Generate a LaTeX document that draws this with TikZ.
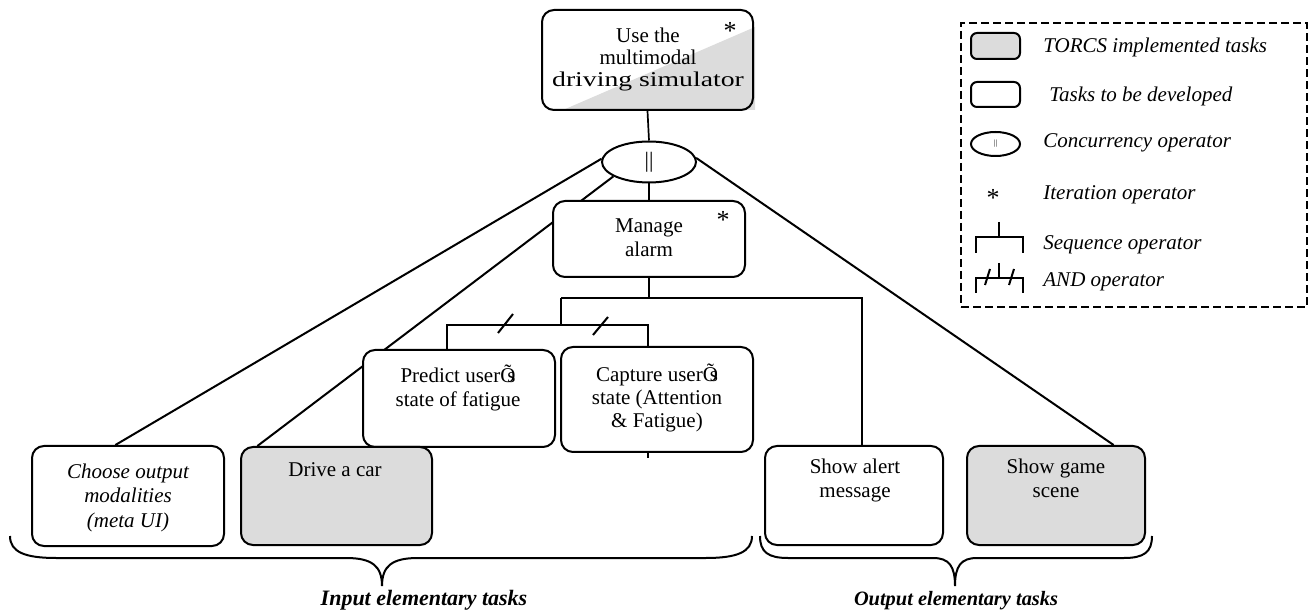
\documentclass[tikz,border=0pt]{standalone}
\usepackage{fontspec}
\setmainfont{Liberation Serif}
\usepackage{graphicx}
\usetikzlibrary{fit,shapes.geometric,calc,backgrounds}
\definecolor{taskgray}{RGB}{220,220,220}
\tikzset{
  box/.style={draw, line width=1pt, rounded corners=6pt, inner sep=0pt, fill=white},
  graybox/.style={box, fill=taskgray},
  txt/.style={align=center, anchor=base, inner sep=0pt, font=\fontsize{10.5}{11.6}\selectfont},
  itxt/.style={txt, font=\fontsize{10.5}{12.2}\selectfont\itshape},
  legtxt/.style={anchor=base west, inner sep=0pt, font=\fontsize{10.5}{12}\selectfont\itshape},
  bitxt/.style={anchor=base, inner sep=0pt, font=\fontsize{10.5}{12}\selectfont\bfseries\itshape},
  star/.style={anchor=base, inner sep=0pt, font=\fontsize{13}{13}\selectfont},
  conn/.style={line width=1pt},
  seqline/.style={line width=0.75pt},
  legline/.style={line width=1pt},
  bracepath/.style={line width=1pt},
}
\newcommand{\usr}{userÕ\kern-0.39em s}
\begin{document}
\begin{tikzpicture}[x=0.5pt,y=-0.5pt]
\useasboundingbox (0,0) rectangle (1312,614);

% ---------- top task ----------
\fill[taskgray] (563,110) -- (755,27) -- (755,110) -- cycle;
\node[fit={(542,10)(753,110)}, draw, line width=1pt, rounded corners=6pt, inner sep=0pt] (top) {};
\node[txt, font=\fontsize{10.5}{11}\selectfont] (toptxt) at (648,87) {Use the\\multimodal\\\scalebox{1.32}[1]{driving simulator}};
\node[star] (topstar) at (730,40) {*};

% ---------- concurrency operator ----------
\node[draw, ellipse, line width=1pt, minimum width=47pt, minimum height=20.5pt, inner sep=0pt, fill=white, font=\fontsize{11}{11}\selectfont] (ell) at (649,162) {||};

% ---------- manage alarm ----------
\node[fit={(553,201)(745,277)}, box] (manage) {};
\node[txt, font=\fontsize{10.5}{12}\selectfont] (managetxt) at (649,257) {Manage\\alarm};
\node[star] (managestar) at (723,229) {*};

% ---------- predict / capture ----------
\node[fit={(363,350)(555,447)}, box] (predict) {};
\node[txt, font=\fontsize{10.5}{12}\selectfont] (predicttxt) at (458,407) {Predict \usr\\state of fatigue};
\node[fit={(561,347)(753,452)}, box] (capture) {};
\node[txt] (capturetxt) at (657,428) {Capture \usr\\state (Attention\\\& Fatigue)};

% ---------- elementary tasks ----------
\node[fit={(32,446)(224,546)}, box] (choose) {};
\node[itxt] (choosetxt) at (128,527) {Choose output\\modalities\\(meta UI)};
\node[fit={(241,447)(432,545)}, graybox] (drive) {};
\node[txt] (drivetxt) at (335,477) {Drive a car};
\node[fit={(765,446)(943,545)}, box] (alert) {};
\node[txt] (alerttxt) at (855,497) {Show alert\\message};
\node[fit={(967,446)(1145,545)}, graybox] (game) {};
\node[txt] (gametxt) at (1056,497) {Show game\\scene};

% ---------- connectors ----------
\begin{scope}[on background layer]
\draw[line width=0.85pt] (top.south) -- (ell.north);
\draw[line width=0.85pt] (ell.south) -- (manage.north);
\draw[conn] (ell.176) -- ($(choose.north west)!0.435!(choose.north east)$);
\draw[conn] (ell.202) -- ($(drive.north west)!0.09!(drive.north east)$);
\draw[conn] (ell.5) -- ($(game.north west)!0.82!(game.north east)$);
% sequence operator
\draw[seqline] (manage.south) -- ++(0,20) coordinate (seq);
\coordinate (alertin) at ($(alert.north west)!0.545!(alert.north east)$);
\coordinate (andtop) at ($(seq)+(-88,0)$);
\draw[seqline] (andtop) -- (alertin |- seq) -- (alertin);
% AND operator
\draw[seqline] (andtop) -- ++(0,27) coordinate (andbar);
\coordinate (predin) at ($(predict.north west)!0.4375!(predict.north east)$);
\coordinate (capin) at ($(capture.north west)!0.453!(capture.north east)$);
\draw[seqline] (predin) -- (predin |- andbar) -- (capin |- andbar) -- ($(capin |- capture.south)+(0,5)$);
\end{scope}
\draw[conn] (498,333) -- (513,314);
\draw[conn] (593,335) -- (608,317);

% ---------- braces ----------
\draw[bracepath] (10,536) .. controls (10,552) and (25,558) .. (56,558) -- (346,558) .. controls (372,558) and (382,566) .. (382,586) .. controls (382,566) and (392,558) .. (418,558) -- (706,558) .. controls (737,558) and (752,552) .. (752,536);
\node[bitxt, font=\fontsize{11}{12}\selectfont\bfseries\itshape] (inlbl) at (424,605) {Input elementary tasks};
\draw[bracepath] (760,536) .. controls (760,552) and (768,558) .. (788,558) -- (933,558) .. controls (949,558) and (955,566) .. (955,586) .. controls (955,566) and (961,558) .. (977,558) -- (1124,558) .. controls (1144,558) and (1152,552) .. (1152,536);
\node[bitxt, font=\fontsize{10.2}{12}\selectfont\bfseries\itshape] (outlbl) at (956,605) {Output elementary tasks};

% ---------- legend ----------
\node[fit={(961,23)(1307,307)}, draw, line width=1.2pt, dash pattern=on 4pt off 2pt, inner sep=0pt] (legend) {};
\node[fit={(971,33)(1020,59)}, graybox, rounded corners=3pt] (lg1) {};
\node[legtxt] (lg1txt) at (1043,53) {TORCS implemented tasks};
\node[fit={(971,82)(1020,107)}, box, rounded corners=3pt] (lg2) {};
\node[legtxt] (lg2txt) at (1049,102) {Tasks to be developed};
\node[draw, ellipse, line width=1pt, minimum width=24.5pt, minimum height=12pt, inner sep=0pt, font=\fontsize{4}{4}\selectfont] (lg3) at (995.5,144) {||};
\node[legtxt] (lg3txt) at (1043,148) {Concurrency operator};
\node[star] (lg4) at (993,207) {*};
\node[legtxt] (lg4txt) at (1043,200) {Iteration operator};
\draw[legline] (999,222) -- (999,237);
\draw[legline] (976,253) -- (976,237) -- (1023,237) -- (1023,253);
\node[legtxt] (lg5txt) at (1043,250) {Sequence operator};
\draw[legline] (999,263) -- (999,278);
\draw[legline] (976,293) -- (976,278) -- (1023,278) -- (1023,293);
\draw[legline] (985,285) -- (990,269);
\draw[legline] (1009,285) -- (1014,269);
\node[legtxt] (lg6txt) at (1043,287) {AND operator};
\end{tikzpicture}
\end{document}
